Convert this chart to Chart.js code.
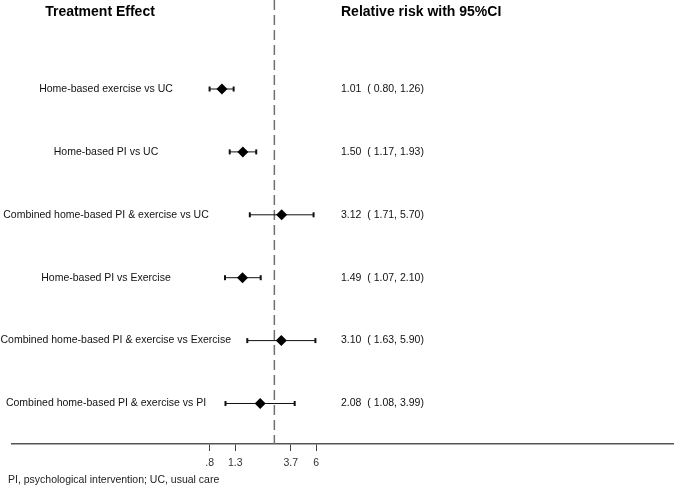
<!DOCTYPE html>
<html>
<head>
<meta charset="utf-8">
<script src="https://cdn.jsdelivr.net/npm/chart.js@4.4.1/dist/chart.umd.min.js"></script>
<style>
  html, body { margin: 0; padding: 0; background: #fff; }
  #wrap { width: 674px; height: 486px; }
</style>
</head>
<body>
<div id="wrap"><canvas id="c" width="674" height="486"></canvas></div>
<script>
// ---- data ----
const comparisons = [
  "Home-based exercise vs UC",
  "Home-based PI vs UC",
  "Combined home-based PI & exercise vs UC",
  "Home-based PI vs Exercise",
  "Combined home-based PI & exercise vs Exercise",
  "Combined home-based PI & exercise vs PI"
];
const rr    = [1.01, 1.50, 3.12, 1.49, 3.10, 2.08];
const lower = [0.80, 1.17, 1.71, 1.07, 1.63, 1.08];
const upper = [1.26, 1.93, 5.70, 2.10, 5.90, 3.99];
const tickValues = [0.8, 1.3, 3.7, 6];
const tickLabels = [".8", "1.3", "3.7", "6"];
const referenceValue = 2.718;
const leftHeader = "Treatment Effect";
const rightHeader = "Relative risk with 95%CI";
const footnote = "PI, psychological intervention; UC, usual care";

// ---- layout constants ----
const X_MIN = 0.01917, X_MAX = 5150;
const Y_MIN = -0.415, Y_MAX = 6.644;
const HEADER_ROW = -0.224;
const FONT = '"Liberation Sans", Arial, sans-serif';

const rows = comparisons.map((_, i) => i + 1);

const datasets = [];
datasets.push({
  type: 'scatter',
  label: 'RR',
  data: rr.map((v, i) => ({ x: v, y: rows[i] })),
  pointStyle: 'rectRot',
  pointRadius: 5.5,
  pointHoverRadius: 5.5,
  backgroundColor: '#000',
  borderColor: '#000',
  borderWidth: 0,
  order: 0
});
lower.forEach((lo, i) => {
  datasets.push({
    type: 'line',
    label: 'CI ' + (i + 1),
    data: [{ x: lo, y: rows[i] }, { x: upper[i], y: rows[i] }],
    borderColor: '#111',
    borderWidth: 1,
    pointStyle: 'line',
    rotation: 90,
    pointRadius: 2.5,
    pointBorderWidth: 2,
    pointBorderColor: '#111',
    fill: false,
    order: 1
  });
});
datasets.push({
  type: 'line',
  label: 'ref',
  data: [{ x: referenceValue, y: Y_MIN }, { x: referenceValue, y: Y_MAX }],
  borderColor: '#707070',
  borderWidth: 1.5,
  borderDash: [10, 5],
  pointRadius: 0,
  fill: false,
  order: 2
});

const textPlugin = {
  id: 'forestText',
  afterDraw(chart) {
    const ctx = chart.ctx;
    const y = chart.scales.y;
    ctx.save();
    ctx.fillStyle = '#000';
    ctx.textBaseline = 'middle';
    // headers
    ctx.font = 'bold 14px ' + FONT;
    ctx.textAlign = 'center';
    ctx.fillText(leftHeader, 100, y.getPixelForValue(HEADER_ROW));
    ctx.textAlign = 'left';
    ctx.fillText(rightHeader, 341, y.getPixelForValue(HEADER_ROW));
    // rows
    ctx.font = '10.5px ' + FONT;
    comparisons.forEach((name, i) => {
      const py = y.getPixelForValue(rows[i]);
      ctx.fillStyle = '#111';
      ctx.textAlign = 'center';
      const w = ctx.measureText(name).width;
      ctx.fillText(name, Math.max(106, w / 2 + 0.5), py);
      ctx.textAlign = 'left';
      const s = rr[i].toFixed(2) + '  ( ' + lower[i].toFixed(2) + ', ' + upper[i].toFixed(2) + ')';
      ctx.fillText(s, 341, py);
    });
    // footnote
    ctx.fillStyle = '#222';
    ctx.font = '10.5px ' + FONT;
    ctx.textAlign = 'left';
    ctx.fillText(footnote, 8, 480);
    ctx.restore();
  }
};

new Chart(document.getElementById('c'), {
  data: { datasets },
  options: {
    responsive: false,
    animation: false,
    events: [],
    layout: { autoPadding: false, padding: { left: 12, right: 0, top: 0, bottom: 0 } },
    plugins: { legend: { display: false }, tooltip: { enabled: false } },
    scales: {
      x: {
        type: 'logarithmic',
        position: 'bottom',
        min: X_MIN,
        max: X_MAX,
        afterBuildTicks(axis) { axis.ticks = tickValues.map(v => ({ value: v })); },
        afterFit(axis) { axis.height = 42; },
        ticks: {
          autoSkip: false,
          maxRotation: 0,
          padding: 6,
          color: '#333',
          font: { family: FONT, size: 10.5 },
          callback: (v, i) => tickLabels[i]
        },
        grid: { display: true, drawOnChartArea: false, drawTicks: true, tickLength: 7, color: '#444', lineWidth: 1 },
        border: { display: true, color: '#555', width: 1.5 }
      },
      y: {
        type: 'linear',
        display: false,
        reverse: true,
        min: Y_MIN,
        max: Y_MAX
      }
    }
  },
  plugins: [textPlugin]
});
</script>
</body>
</html>
